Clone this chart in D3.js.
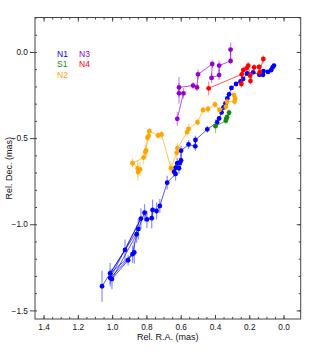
<!DOCTYPE html>
<html>
<head>
<meta charset="utf-8">
<script src="https://cdn.jsdelivr.net/npm/d3@7"></script>
<style>
  body { margin: 0; background: #fff; }
  text { font-family: "Liberation Sans", Arial, sans-serif; }
</style>
</head>
<body>
<div id="chart"></div>
<script>
// component positions: relative R.A. / Dec. (mas), with Dec. errors
const n1RA  = [1.059, 0.925, 0.832, 1.011, 0.881, 0.857, 1.001, 0.907, 0.871, 1.012, 0.847, 0.811, 0.797, 0.769, 0.764, 0.741, 0.722, 0.679, 0.630, 0.639, 0.629, 0.610, 0.620, 0.604, 0.598, 0.598, 0.554, 0.515, 0.514, 0.445, 0.388, 0.376, 0.362, 0.350, 0.339, 0.328, 0.318, 0.304, 0.277, 0.251, 0.236, 0.213, 0.177, 0.141, 0.120, 0.117, 0.091, 0.073, 0.064, 0.056];
const n1Dec = [-1.360, -1.149, -0.967, -1.312, -1.174, -1.058, -1.318, -1.209, -1.164, -1.285, -1.028, -0.933, -0.972, -0.965, -0.917, -0.923, -0.894, -0.759, -0.708, -0.695, -0.672, -0.675, -0.646, -0.643, -0.630, -0.573, -0.537, -0.548, -0.511, -0.449, -0.409, -0.386, -0.351, -0.322, -0.299, -0.270, -0.246, -0.209, -0.186, -0.171, -0.157, -0.125, -0.118, -0.133, -0.133, -0.111, -0.116, -0.106, -0.090, -0.079];
const n1Err = [0.09, 0.06, 0.06, 0.05, 0.05, 0.05, 0.06, 0.03, 0.065, 0.06, 0.06, 0.05, 0.05, 0.06, 0.06, 0.05, 0.04, 0.04, 0.04, 0.03, 0.03, 0.03, 0.03, 0.03, 0.03, 0.03, 0.025, 0.025, 0.025, 0.02, 0.02, 0.015, 0.015, 0.015, 0.015, 0.015, 0.015, 0.012, 0.012, 0.01, 0.01, 0.01, 0.01, 0.01, 0.01, 0.01, 0.01, 0.01, 0.01, 0.01];

const s1RA  = [0.397, 0.337, 0.334, 0.330, 0.318];
const s1Dec = [-0.431, -0.399, -0.389, -0.379, -0.353];
const s1Err = [0.04, 0.02, 0.02, 0.02, 0.02];

const n2RA  = [0.849, 0.851, 0.837, 0.881, 0.817, 0.806, 0.802, 0.794, 0.787, 0.783, 0.732, 0.712, 0.657, 0.623, 0.619, 0.563, 0.554, 0.502, 0.470, 0.441, 0.400, 0.374, 0.336, 0.330, 0.286, 0.283, 0.289];
const n2Dec = [-0.697, -0.676, -0.682, -0.646, -0.613, -0.581, -0.571, -0.498, -0.488, -0.460, -0.485, -0.479, -0.675, -0.585, -0.559, -0.465, -0.447, -0.408, -0.337, -0.331, -0.305, -0.337, -0.318, -0.289, -0.288, -0.270, -0.250];
const n2Err = [0.05, 0.05, 0.04, 0.03, 0.04, 0.04, 0.04, 0.04, 0.03, 0.02, 0.02, 0.02, 0.04, 0.04, 0.03, 0.03, 0.03, 0.02, 0.02, 0.02, 0.02, 0.02, 0.02, 0.02, 0.02, 0.02, 0.02];

const n3RA  = [0.620, 0.584, 0.610, 0.610, 0.528, 0.505, 0.499, 0.416, 0.420, 0.376, 0.376, 0.309, 0.309];
const n3Dec = [-0.388, -0.240, -0.240, -0.206, -0.195, -0.206, -0.130, -0.070, -0.151, -0.134, -0.079, -0.052, 0.014];
const n3Err = [0.04, 0.03, 0.06, 0.06, 0.02, 0.02, 0.03, 0.02, 0.03, 0.03, 0.03, 0.02, 0.04];

const n4RA  = [0.437, 0.244, 0.246, 0.235, 0.216, 0.206, 0.196, 0.193, 0.172, 0.143, 0.140, 0.118];
const n4Dec = [-0.211, -0.130, -0.186, -0.105, -0.095, -0.079, -0.137, -0.169, -0.090, -0.087, -0.119, -0.041];
const n4Err = [0.04, 0.02, 0.02, 0.02, 0.02, 0.02, 0.02, 0.02, 0.02, 0.02, 0.02, 0.02];

const xTicks = [1.4, 1.2, 1.0, 0.8, 0.6, 0.4, 0.2, 0.0];
const yTicks = [0.0, -0.5, -1.0, -1.5];

const series = [
    {name: "N1", ra: n1RA, dec: n1Dec, err: n1Err, color: "#0000ff"},
    {name: "S1", ra: s1RA, dec: s1Dec, err: s1Err, color: "#138a13"},
    {name: "N2", ra: n2RA, dec: n2Dec, err: n2Err, color: "#ffa500"},
    {name: "N3", ra: n3RA, dec: n3Dec, err: n3Err, color: "#9400d3"},
    {name: "N4", ra: n4RA, dec: n4Dec, err: n4Err, color: "#ff0000"}
];

const width = 316, height = 355;
const margin = {top: 17.5, right: 15.3, bottom: 36, left: 35};

const svg = d3.select("#chart").append("svg")
    .attr("width", width)
    .attr("height", height);

const x = d3.scaleLinear().domain([1.45, -0.1]).range([margin.left, width - margin.right]);
const y = d3.scaleLinear().domain([-1.55, 0.2]).range([height - margin.bottom, margin.top]);

const axisColor = "#444";
const fmt = d3.format(".1f");
const minorX = d3.range(29).map(i => +(1.4 - i * 0.05).toFixed(2)).filter(v => v > -0.1 && v < 1.45);
const minorY = d3.range(18).map(i => +(0.2 - i * 0.1).toFixed(2)).filter(v => v >= -1.55 && v <= 0.2);

// frame
svg.append("rect")
    .attr("x", x.range()[0]).attr("y", y.range()[1])
    .attr("width", x.range()[1] - x.range()[0])
    .attr("height", y.range()[0] - y.range()[1])
    .attr("fill", "none").attr("stroke", axisColor).attr("stroke-width", 1);

function styleAxis(g) {
    g.select(".domain").remove();
    g.selectAll("line").attr("stroke", axisColor);
    g.selectAll("text").attr("fill", "#111").style("font-size", "8.3px");
}

// bottom
svg.append("g").attr("transform", `translate(0,${y.range()[0]})`)
    .call(d3.axisBottom(x).tickValues(minorX).tickSizeInner(-2).tickFormat(""))
    .call(styleAxis);
svg.append("g").attr("transform", `translate(0,${y.range()[0]})`)
    .call(d3.axisBottom(x).tickValues(xTicks).tickSizeInner(-4).tickPadding(5).tickFormat(fmt))
    .call(styleAxis);
// top
svg.append("g").attr("transform", `translate(0,${y.range()[1]})`)
    .call(d3.axisTop(x).tickValues(minorX).tickSizeInner(-2).tickFormat(""))
    .call(styleAxis);
svg.append("g").attr("transform", `translate(0,${y.range()[1]})`)
    .call(d3.axisTop(x).tickValues(xTicks).tickSizeInner(-4).tickFormat(""))
    .call(styleAxis);
// left
svg.append("g").attr("transform", `translate(${x.range()[0]},0)`)
    .call(d3.axisLeft(y).tickValues(minorY).tickSizeInner(-2).tickFormat(""))
    .call(styleAxis);
svg.append("g").attr("transform", `translate(${x.range()[0]},0)`)
    .call(d3.axisLeft(y).tickValues(yTicks).tickSizeInner(5).tickPadding(2).tickFormat(fmt))
    .call(styleAxis);
// right
svg.append("g").attr("transform", `translate(${x.range()[1]},0)`)
    .call(d3.axisRight(y).tickValues(minorY).tickSizeInner(-2).tickFormat(""))
    .call(styleAxis);
svg.append("g").attr("transform", `translate(${x.range()[1]},0)`)
    .call(d3.axisRight(y).tickValues(yTicks).tickSizeInner(-4).tickFormat(""))
    .call(styleAxis);

// axis titles
svg.append("text")
    .attr("x", (x.range()[0] + x.range()[1]) / 2).attr("y", 339.5)
    .attr("text-anchor", "middle").attr("fill", "#111").style("font-size", "9px")
    .text("Rel. R.A. (mas)");
svg.append("text")
    .attr("transform", `translate(12,${(y.range()[0] + y.range()[1]) / 2}) rotate(-90)`)
    .attr("text-anchor", "middle").attr("fill", "#111").style("font-size", "9px")
    .text("Rel. Dec. (mas)");

// data
const line = d3.line().x(d => x(d.ra)).y(d => y(d.dec));
series.forEach(function (s) {
    const pts = s.ra.map((v, i) => ({ra: v, dec: s.dec[i], err: s.err[i]}));
    const g = svg.append("g");
    g.selectAll("line.err").data(pts).join("line")
        .attr("class", "err")
        .attr("x1", d => x(d.ra)).attr("x2", d => x(d.ra))
        .attr("y1", d => y(d.dec - d.err)).attr("y2", d => y(d.dec + d.err))
        .attr("stroke", s.color).attr("stroke-opacity", 0.45).attr("stroke-width", 1.2);
    g.append("path").datum(pts)
        .attr("d", line)
        .attr("fill", "none").attr("stroke", s.color)
        .attr("stroke-opacity", 0.75).attr("stroke-width", 0.9);
    g.selectAll("circle").data(pts).join("circle")
        .attr("cx", d => x(d.ra)).attr("cy", d => y(d.dec))
        .attr("r", 2.4).attr("fill", s.color);
});

// legend
const legendPos = {N1: [57, 56.5], S1: [57, 67], N2: [57, 77.5], N3: [79, 56.5], N4: [79, 67]};
series.forEach(function (s) {
    svg.append("text")
        .attr("x", legendPos[s.name][0]).attr("y", legendPos[s.name][1])
        .attr("fill", s.color).style("font-size", "8.5px")
        .text(s.name);
});
</script>
</body>
</html>
